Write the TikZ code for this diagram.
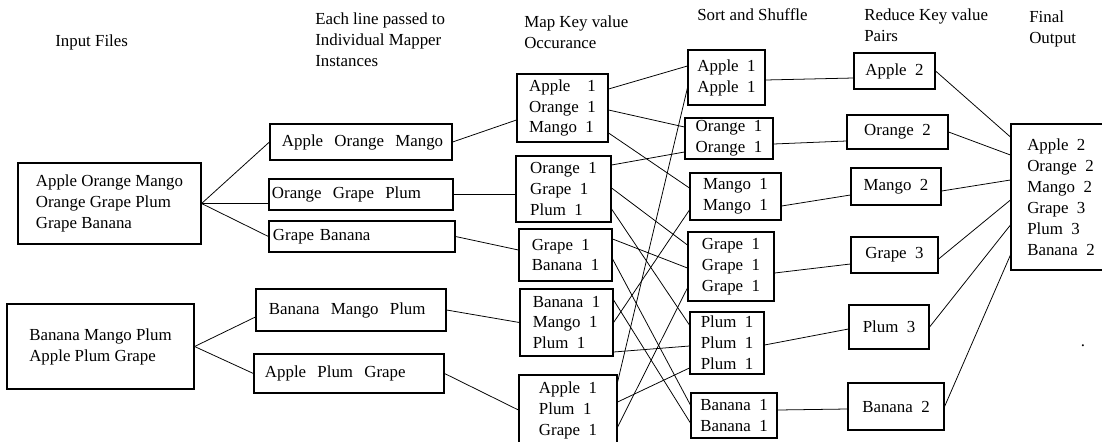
\documentclass[tikz,border=0pt]{standalone}
\usepackage{fontspec}
\setmainfont{Liberation Serif}
\usetikzlibrary{calc}
\begin{document}
\begin{tikzpicture}[x=0.025cm,y=-0.025cm,
    every node/.style={font=\fontsize{12}{14.9}\selectfont},
    box/.style={draw,line width=0.8pt,inner sep=0pt,align=left},
    head/.style={inner sep=0pt,align=left,anchor=west},
    link/.style={line width=0.55pt}]
    \useasboundingbox (0,0) rectangle (1102,441);

    \node[head] (lblin) at (55,42) {Input Files};
    \node[head] (lblmap) at (315,39.5) {Each line passed to\\Individual Mapper\\Instances};
    \node[head] (lblkey) at (524,32.5) {Map Key value\\Occurance};
    \node[head] (lblsort) at (697,15) {Sort and Shuffle};
    \node[head] (lblred) at (864,25.5) {Reduce Key value\\Pairs};
    \node[head] (lblout) at (1029,29) {Final\\Output};

    \node[box,minimum width=4.575cm,minimum height=2.025cm] (In1) at (109.5,203.5) {Apple Orange Mango\\Orange Grape Plum\\Grape Banana};
    \node[box,minimum width=4.675cm,minimum height=2.125cm] (In2) at (100.5,346.5) {Banana Mango Plum\\Apple Plum Grape};

    \node[box,inner xsep=0.3cm,text width=3.95cm,minimum height=0.9cm] (M1) at (361,142) {\mbox{Apple\ \ Orange\ \ Mango}};
    \node[box,inner xsep=0.075cm,text width=4.45cm,minimum height=0.775cm] (M2) at (361,194.5) {\mbox{Orange\ \ Grape\ \ Plum}};
    \node[box,inner xsep=0.1cm,text width=4.45cm,minimum height=0.775cm] (M3) at (362,236.5) {Grape Banana};
    \node[box,inner xsep=0.325cm,text width=4.1cm,minimum height=1.05cm] (M4) at (351,310) {\mbox{Banana\ \ Mango\ \ Plum}};
    \node[box,inner xsep=0.275cm,text width=4.2cm,minimum height=0.975cm] (M5) at (349,373.5) {\mbox{Apple\ \ Plum\ \ Grape}};

    \node[box,minimum width=2.275cm,minimum height=1.7cm] (K1) at (562.5,108) {Apple\ \ \ \ 1\\Orange\ \ 1\\Mango\ \ 1};
    \node[box,minimum width=2.375cm,minimum height=1.65cm] (K2) at (563.5,189) {Orange\ \ 1\\Grape\ \ 1\\Plum\ \ 1};
    \node[box,minimum width=2.325cm,minimum height=1.3cm] (K3) at (565.5,255) {Grape\ \ 1\\Banana\ \ 1};
    \node[box,minimum width=2.325cm,minimum height=1.675cm] (K4) at (566.5,322.5) {Banana\ \ 1\\Mango\ \ 1\\Plum\ \ 1};
    \node[box,minimum width=2.45cm,minimum height=1.75cm] (K5) at (568,410) {Apple\ \ 1\\Plum\ \ 1\\Grape\ \ 1};

    \node[box,minimum width=1.925cm,minimum height=1.375cm] (S1) at (726.5,77.5) {Apple\ \ 1\\Apple\ \ 1};
    \node[box,minimum width=2.2cm,minimum height=1.025cm] (S2) at (729,138.5) {Orange\ \ 1\\Orange\ \ 1};
    \node[box,minimum width=2.275cm,minimum height=1.175cm] (S3) at (735.5,196.5) {Mango\ \ 1\\Mango\ \ 1};
    \node[box,minimum width=2.15cm,minimum height=1.725cm] (S4) at (731,266.5) {Grape\ \ 1\\Grape\ \ 1\\Grape\ \ 1};
    \node[box,minimum width=1.85cm,minimum height=1.55cm] (S5) at (727,343) {Plum\ \ 1\\Plum\ \ 1\\Plum\ \ 1};
    \node[box,minimum width=2.15cm,minimum height=1.125cm] (S6) at (734,415.5) {Banana\ \ 1\\Banana\ \ 1};

    \node[box,minimum width=2.025cm,minimum height=0.9cm] (R1) at (894.5,71) {Apple\ \ 2};
    \node[box,minimum width=2.525cm,minimum height=0.85cm] (R2) at (897.5,132) {Orange\ \ 2};
    \node[box,minimum width=2.25cm,minimum height=0.925cm] (R3) at (896,186.5) {Mango\ \ 2};
    \node[box,minimum width=2.175cm,minimum height=0.9cm] (R4) at (894.5,255) {Grape\ \ 3};
    \node[box,minimum width=2cm,minimum height=1.1cm] (R5) at (889,327) {Plum\ \ 3};
    \node[box,minimum width=2.4cm,minimum height=1.175cm] (R6) at (896,406.5) {Banana\ \ 2};

    \node[box,minimum width=2.5cm,minimum height=3.65cm] (F) at (1061,197) {Apple\ \ 2\\Orange\ \ 2\\Mango\ \ 2\\Grape\ \ 3\\Plum\ \ 3\\Banana\ \ 2};
    \node[inner sep=0pt] (dot) at (1083,346) {.};

    \draw[link] (In1.east) -- (M1.west);
    \draw[link] (In1.east) -- (M2.west |- In1.east);
    \draw[link] (In1.east) -- (M3.west);
    \draw[link] (In2.east) -- ($(M4.west)+(0,7)$);
    \draw[link] (In2.east) -- (M5.west);

    \draw[link] (M1.east) -- ($(K1.west)+(0,12)$);
    \draw[link] (M2.east) -- (M2.east -| K2.west);
    \draw[link] (M3.east) -- ($(K3.west)+(0,-5)$);
    \draw[link] (M4.east) -- (K4.west);
    \draw[link] (M5.east) -- (K5.west);

    \draw[link] ($(K1.east)+(0,-19)$) -- ($(S1.west)+(0,-11.5)$);
    \draw[link] ($(K1.east)+(0,2)$) -- ($(S2.west)+(0,-11.5)$);
    \draw[link] ($(K1.east)+(0,25)$) -- ($(S3.west)+(0,-8.5)$);
    \draw[link] ($(K2.east)+(0,-24)$) -- ($(S2.west)+(0,13.5)$);
    \draw[link] ($(K2.east)+(0,-1)$) -- ($(S4.west)+(0,-21.5)$);
    \draw[link] ($(K2.east)+(0,20)$) -- ($(S5.west)+(0,-18)$);
    \draw[link] ($(K3.east)+(0,-16)$) -- ($(S4.west)+(0,1.5)$);
    \draw[link] ($(K3.east)+(0,4)$) -- ($(S6.west)+(0,-10.5)$);
    \draw[link] ($(K4.east)+(0,-22.5)$) -- ($(S6.west)+(0,7.5)$);
    \draw[link] (K4.east) -- ($(S3.west)+(0,13.5)$);
    \draw[link] ($(K4.east)+(0,29.5)$) -- ($(S5.west)+(0,3)$);
    \draw[link] ($(K5.east)+(0,-28)$) -- ($(S1.west)+(0,10.5)$);
    \draw[link] ($(K5.east)+(0,-8)$) -- ($(S5.west)+(0,25)$);
    \draw[link] ($(K5.east)+(0,17)$) -- ($(S4.west)+(0,21.5)$);

    \draw[link] ($(S1.east)+(0,2.5)$) -- ($(R1.west)+(0,7)$);
    \draw[link] ($(S2.east)+(0,5.5)$) -- ($(R2.west)+(0,9)$);
    \draw[link] ($(S3.east)+(0,9.5)$) -- ($(R3.west)+(0,8.5)$);
    \draw[link] ($(S4.east)+(0,6.5)$) -- ($(R4.west)+(0,9)$);
    \draw[link] ($(S5.east)+(0,2)$) -- ($(R5.west)+(0,2)$);
    \draw[link] ($(S6.east)+(0,-5.5)$) -- ($(R6.west)+(0,2.5)$);

    \draw[link] (R1.east) -- ($(F.west)+(0,-60)$);
    \draw[link] (R2.east) -- ($(F.west)+(0,-42)$);
    \draw[link] ($(R3.east)+(0,4.5)$) -- ($(F.west)+(0,-17)$);
    \draw[link] ($(R4.east)+(0,4)$) -- ($(F.west)+(0,3)$);
    \draw[link] (R5.east) -- ($(F.west)+(0,28)$);
    \draw[link] (R6.east) -- ($(F.west)+(0,58)$);
\end{tikzpicture}
\end{document}
